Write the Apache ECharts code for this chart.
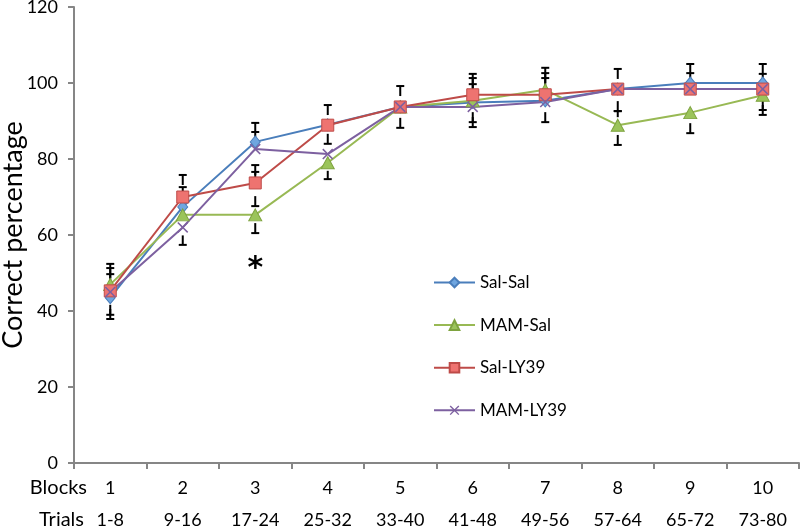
<!DOCTYPE html>
<html>
<head>
<meta charset="utf-8">
<script src="https://cdn.jsdelivr.net/npm/echarts@6/dist/echarts.min.js"></script>
<style>
html,body{margin:0;padding:0;background:#fff;}
#chart{width:800px;height:528px;}
</style>
</head>
<body>
<div id="chart"></div>
<script>
// ---- data ----
const blocks = ['1','2','3','4','5','6','7','8','9','10'];
const trials = ['1-8','9-16','17-24','25-32','33-40','41-48','49-56','57-64','65-72','73-80'];
const yTicks = [0, 20, 40, 60, 80, 100, 120];

const salSal  = [43.5, 67.4, 84.5, 89.0, 93.7, 94.9, 95.3, 98.4, 100, 100];
const mamSal  = [47.0, 65.3, 65.3, 79.0, 93.7, 95.3, 98.2, 88.9, 92.2, 96.8];
const salLY39 = [45.3, 70.0, 73.7, 88.9, 93.7, 96.9, 96.9, 98.4, 98.4, 98.4];
const mamLY39 = [45.0, 62.0, 82.6, 81.3, 93.7, 93.7, 95.0, 98.4, 98.4, 98.4];

// visible error-bar ends (value at cap), null where not visible
const salSalUp   = [null, 72.6, 89.5, null, null, 99.7, 101.3, 103.7, 105, 105];
const salSalLow  = [37.9, null, null, 84.0, null, null, null, null, null, null];
const mamSalUp   = [52.4, null, 76.6, null, null, 101.3, 104.0, 92.6, null, null];
const mamSalLow  = [null, null, 60.5, 74.7, 88.2, 89.7, null, 83.7, 86.8, 91.6];
const salLY39Up  = [51.3, 75.8, 78.4, 94.2, 99.2, 102.4, 102.6, null, null, 102.4];
const salLY39Low = [39.0, null, 67.6, null, null, null, null, 92.6, null, null];
const mamLY39Up  = [49.7, null, 87.1, null, null, null, null, null, 102.6, null];
const mamLY39Low = [null, 57.4, null, null, null, 88.4, 89.7, null, null, 92.9];

const asteriskAt = {block: '3', value: 51.0};

// ---- chart ----
const FONT = 'Lato';
const chart = echarts.init(document.getElementById('chart'));

function errData(mean, caps) {
  const out = [];
  caps.forEach((c, i) => { if (c !== null) out.push([i, mean[i], c]); });
  return out;
}
const errorData = []
  .concat(errData(salSal, salSalUp), errData(salSal, salSalLow))
  .concat(errData(mamSal, mamSalUp), errData(mamSal, mamSalLow))
  .concat(errData(salLY39, salLY39Up), errData(salLY39, salLY39Low))
  .concat(errData(mamLY39, mamLY39Up), errData(mamLY39, mamLY39Low));

function renderErr(params, api) {
  const idx = api.value(0), mean = api.value(1), cap = api.value(2);
  const pc = api.coord([idx, cap]);
  const pm = api.coord([idx, mean]);
  const dir = pm[1] > pc[1] ? 1 : -1;
  const dist = Math.abs(pm[1] - pc[1]);
  const stem = Math.min(10, Math.max(0, dist - 8));
  const st = {stroke: '#000', lineWidth: 2};
  return {type: 'group', children: [
    {type: 'line', shape: {x1: pc[0] - 4, y1: pc[1], x2: pc[0] + 4, y2: pc[1]}, style: st},
    {type: 'line', shape: {x1: pc[0], y1: pc[1], x2: pc[0], y2: pc[1] + dir * stem}, style: st}
  ]};
}

const xPath = 'path://M0,1L1,0L5,4L9,0L10,1L6,5L10,9L9,10L5,6L1,10L0,9L4,5Z';

function lineSeries(name, data, color, symbol, size, fill, border) {
  return {
    name: name, type: 'line', data: data, z: 3,
    symbol: symbol, symbolSize: size, showSymbol: true,
    lineStyle: {color: color, width: 2},
    itemStyle: {color: fill, borderColor: border, borderWidth: border ? 1 : 0},
    emphasis: {disabled: true}
  };
}

const series = [
  {
    type: 'custom', name: 'err', renderItem: renderErr, data: errorData, z: 1,
    encode: {x: 0, y: 2}, silent: true
  },
  lineSeries('Sal-Sal', salSal, '#4a7ebb', 'diamond', [10, 12], '#6fa6e0', '#4a7ebb'),
  Object.assign(lineSeries('MAM-Sal', mamSal, '#98b954', 'triangle', [13, 12], '#9bc45a', '#7ea33f'), {
    markPoint: {
      symbol: 'circle', symbolSize: 1, itemStyle: {color: 'rgba(0,0,0,0)'},
      label: {show: true, position: 'inside', formatter: '*', fontSize: 30, fontWeight: 'bold', color: '#000', fontFamily: 'DejaVu Sans'},
      data: [{coord: [asteriskAt.block, asteriskAt.value]}]
    }
  }),
  lineSeries('Sal-LY39', salLY39, '#be4b48', 'rect', [12, 12], '#ee7370', '#be4b48'),
  lineSeries('MAM-LY39', mamLY39, '#7d60a0', xPath, [11, 11], '#7d60a0', null)
];

chart.setOption({
  animation: false,
  backgroundColor: '#fff',
  textStyle: {fontFamily: FONT},
  grid: {left: 74, right: 1, top: 7, bottom: 65, outerBoundsMode: 'none', containLabel: false},
  legend: {
    data: ['Sal-Sal', 'MAM-Sal', 'Sal-LY39', 'MAM-LY39'],
    orient: 'vertical', left: 428, top: 269,
    itemWidth: 41, itemHeight: 12, itemGap: 25.6,
    textStyle: {fontSize: 17, color: '#000', fontFamily: FONT}
  },
  xAxis: {
    type: 'category', data: blocks, boundaryGap: true,
    axisLine: {lineStyle: {color: '#868686', width: 2}},
    axisTick: {show: true, length: 6, lineStyle: {color: '#868686', width: 2}},
    axisLabel: {
      margin: 9, lineHeight: 32, fontSize: 18, color: '#000', fontFamily: FONT,
      formatter: (v, i) => blocks[i] + '\n' + trials[i]
    },
    splitLine: {show: false}
  },
  yAxis: {
    type: 'value', min: yTicks[0], max: yTicks[yTicks.length - 1], interval: 20,
    axisLine: {show: true, lineStyle: {color: '#868686', width: 2}},
    axisTick: {show: true, length: 6, lineStyle: {color: '#868686', width: 2}},
    axisLabel: {margin: 16, fontSize: 18, color: '#000', fontFamily: FONT},
    splitLine: {show: false}
  },
  graphic: [
    {type: 'text', x: 13, y: 235, rotation: Math.PI / 2,
     style: {text: 'Correct percentage', fontSize: 27, fontFamily: FONT, fill: '#000', align: 'center', verticalAlign: 'middle'}},
    {type: 'text', x: 87, y: 488, style: {text: 'Blocks', fontSize: 20, fontFamily: FONT, fill: '#000', align: 'right', verticalAlign: 'middle'}},
    {type: 'text', x: 84, y: 520, style: {text: 'Trials', fontSize: 20, fontFamily: FONT, fill: '#000', align: 'right', verticalAlign: 'middle'}}
  ],
  series: series
});
</script>
</body>
</html>
